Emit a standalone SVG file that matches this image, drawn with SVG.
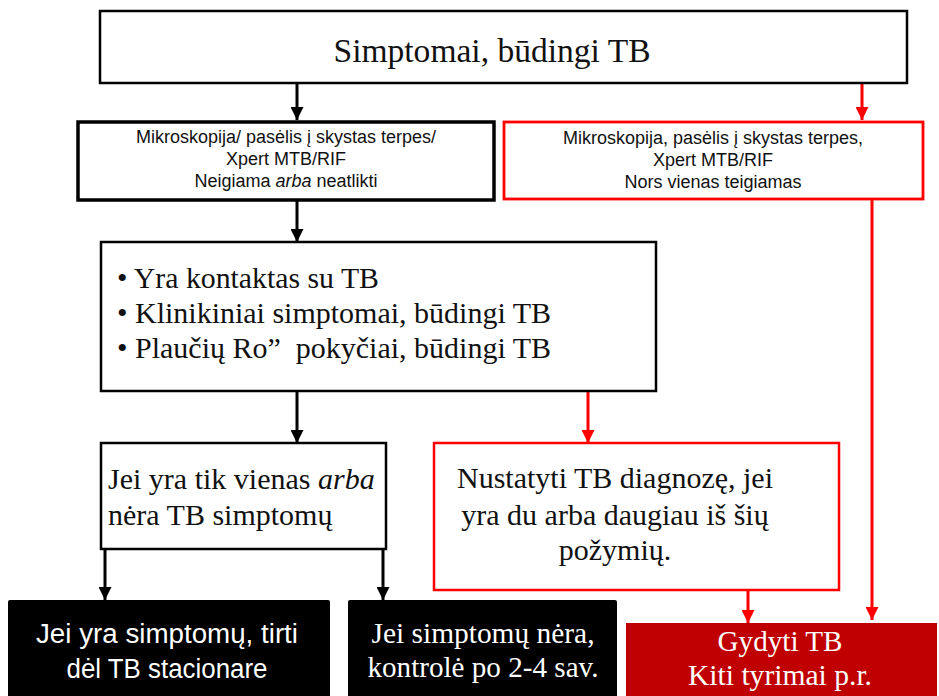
<svg xmlns="http://www.w3.org/2000/svg" width="939" height="696" viewBox="0 0 939 696">
  <style>
    .box { fill: #ffffff; stroke: #000000; stroke-width: 2.5; }
    .box-red { fill: #ffffff; stroke: #ff0000; stroke-width: 2.8; }
    .dark { fill: #000000; }
    .treat { fill: #c00000; }
    .sans { font-family: "Liberation Sans", Arial, sans-serif; font-size: 18px; fill: #111111; }
    .serif { font-family: "Liberation Serif", "Times New Roman", serif; font-size: 30px; fill: #111111; }
    .title { font-family: "Liberation Serif", "Times New Roman", serif; font-size: 34px; fill: #111111; }
    .light { font-family: "Liberation Serif", "Times New Roman", serif; font-size: 29px; fill: #ffffff; }
    .light-sans { font-family: "Liberation Sans", Arial, sans-serif; font-size: 27px; fill: #ffffff; }
    .mid { text-anchor: middle; }
    .conn { fill: none; stroke: #000000; stroke-width: 3; }
    .conn-red { fill: none; stroke: #ff0000; stroke-width: 3; }
  </style>
  <defs>
    <marker id="head" viewBox="0 0 12 12" refX="12" refY="6" markerWidth="13" markerHeight="13" markerUnits="userSpaceOnUse" orient="auto">
      <path d="M0,0 L12,6 L0,12 z" fill="#000000"/>
    </marker>
    <marker id="head-red" viewBox="0 0 12 12" refX="12" refY="6" markerWidth="13" markerHeight="13" markerUnits="userSpaceOnUse" orient="auto">
      <path d="M0,0 L12,6 L0,12 z" fill="#ff0000"/>
    </marker>
  </defs>

  <!-- connectors -->
  <g id="connectors">
    <line class="conn" x1="297" y1="84" x2="297" y2="120" marker-end="url(#head)"/>
    <line class="conn-red" x1="862" y1="84" x2="862" y2="120" marker-end="url(#head-red)"/>
    <line class="conn" x1="297" y1="201" x2="297" y2="242" marker-end="url(#head)"/>
    <line class="conn-red" x1="872" y1="200" x2="872" y2="620" marker-end="url(#head-red)"/>
    <line class="conn" x1="297" y1="392" x2="297" y2="443" marker-end="url(#head)"/>
    <line class="conn-red" x1="588" y1="392" x2="588" y2="443" marker-end="url(#head-red)"/>
    <line class="conn" x1="105" y1="550" x2="105" y2="600" marker-end="url(#head)"/>
    <line class="conn" x1="383" y1="550" x2="383" y2="600" marker-end="url(#head)"/>
    <line class="conn-red" x1="748" y1="591" x2="748" y2="623" marker-end="url(#head-red)"/>
  </g>

  <!-- start -->
  <g id="symptoms">
    <rect class="box" x="100" y="11" width="807" height="72"/>
    <text class="title mid" x="492" y="62" textLength="317" lengthAdjust="spacingAndGlyphs">Simptomai, būdingi TB</text>
  </g>

  <!-- negative tests -->
  <g id="tests-negative">
    <rect class="box" x="78" y="122" width="416" height="78" style="stroke-width:3.5"/>
    <text class="sans mid" x="286" y="143">Mikroskopija/ pasėlis į skystas terpes/</text>
    <text class="sans mid" x="286" y="165">Xpert MTB/RIF</text>
    <text class="sans mid" x="286" y="187">Neigiama <tspan font-style="italic">arba</tspan> neatlikti</text>
  </g>

  <!-- positive tests -->
  <g id="tests-positive">
    <rect class="box-red" x="504" y="122" width="419" height="77"/>
    <text class="sans mid" x="713" y="144">Mikroskopija, pasėlis į skystas terpes,</text>
    <text class="sans mid" x="713" y="166">Xpert MTB/RIF</text>
    <text class="sans mid" x="713" y="188">Nors vienas teigiamas</text>
  </g>

  <!-- criteria -->
  <g id="criteria">
    <rect class="box" x="101" y="242" width="555" height="149"/>
    <text class="serif" x="117" y="288" textLength="262" lengthAdjust="spacingAndGlyphs">• Yra kontaktas su TB</text>
    <text class="serif" x="117" y="323" textLength="434" lengthAdjust="spacingAndGlyphs">• Klinikiniai simptomai, būdingi TB</text>
    <text class="serif" x="117" y="358" textLength="434" lengthAdjust="spacingAndGlyphs">• Plaučių Ro”&#160; pokyčiai, būdingi TB</text>
  </g>

  <!-- at most one sign -->
  <g id="one-sign">
    <rect class="box" x="101" y="443" width="285" height="106"/>
    <text class="serif" x="108" y="489">Jei yra tik vienas <tspan font-style="italic">arba</tspan></text>
    <text class="serif" x="108" y="525">nėra TB simptomų</text>
  </g>

  <!-- diagnosis -->
  <g id="diagnosis">
    <rect class="box-red" x="434" y="443" width="405" height="147" style="stroke-width:2.5"/>
    <text class="serif mid" x="615" y="488">Nustatyti TB diagnozę, jei</text>
    <text class="serif mid" x="615" y="525">yra du arba daugiau iš šių</text>
    <text class="serif mid" x="615" y="560">požymių.</text>
  </g>

  <!-- outcomes -->
  <g id="hospital">
    <rect class="dark" x="8" y="600" width="322" height="100" rx="2"/>
    <text class="light-sans mid" x="167" y="643" textLength="262" lengthAdjust="spacingAndGlyphs">Jei yra simptomų, tirti</text>
    <text class="light-sans mid" x="167" y="678" textLength="201" lengthAdjust="spacingAndGlyphs">dėl TB stacionare</text>
  </g>

  <g id="follow-up">
    <rect class="dark" x="348" y="600" width="269" height="100" rx="2"/>
    <text class="light mid" x="483" y="643" textLength="223" lengthAdjust="spacingAndGlyphs">Jei simptomų nėra,</text>
    <text class="light mid" x="483" y="677" textLength="231" lengthAdjust="spacingAndGlyphs">kontrolė po 2-4 sav.</text>
  </g>

  <g id="treat">
    <rect class="treat" x="626" y="623" width="311" height="80"/>
    <text class="light mid" x="780" y="651" textLength="125" lengthAdjust="spacingAndGlyphs">Gydyti TB</text>
    <text class="light mid" x="780" y="685" textLength="184" lengthAdjust="spacingAndGlyphs">Kiti tyrimai p.r.</text>
  </g>
</svg>
